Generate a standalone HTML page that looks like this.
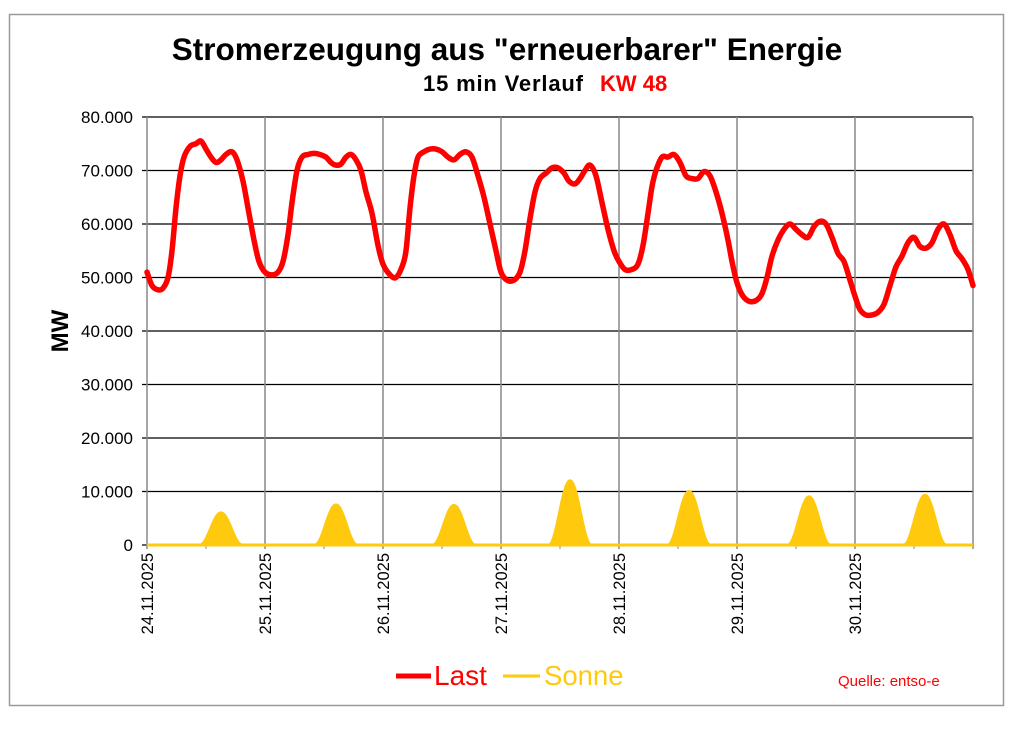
<!DOCTYPE html>
<html><head><meta charset="utf-8"><style>
body{margin:0;background:#fff;}
svg text{font-family:"Liberation Sans",Arial,sans-serif;}
</style></head><body>
<svg id="s" width="1024" height="724" xmlns="http://www.w3.org/2000/svg">
<rect x="0" y="0" width="1024" height="724" fill="#fff"/>
<rect x="9.5" y="14.5" width="994" height="691" fill="none" stroke="#9a9a9a" stroke-width="1.5"/>
<text x="507" y="60" font-size="31.5" font-weight="bold" text-anchor="middle">Stromerzeugung aus "erneuerbarer" Energie</text>
<text x="583" y="91" font-size="22" font-weight="bold" text-anchor="end" textLength="160">15 min Verlauf</text>
<text x="600" y="91" font-size="22" font-weight="bold" fill="#ff0000">KW 48</text>
<g id="grid"></g>
<g id="lbl" font-size="17"></g>
<text transform="translate(68,331) rotate(-90)" font-size="24" font-weight="bold" text-anchor="middle">MW</text>
<path id="sun" fill="#ffc90e" stroke="#ffc90e" stroke-width="3"/>
<path id="last" fill="none" stroke="#ff0000" stroke-width="5.5" stroke-linejoin="round" stroke-linecap="round"/>
<line x1="396" y1="676" x2="431" y2="676" stroke="#ff0000" stroke-width="5"/>
<text x="434" y="685" font-size="28" fill="#ff0000">Last</text>
<line x1="503" y1="676" x2="540" y2="676" stroke="#ffc90e" stroke-width="3"/>
<text x="544" y="685" font-size="27.5" fill="#ffc90e">Sonne</text>
<text x="838" y="686" font-size="15" fill="#ff0000">Quelle: entso-e</text>
</svg>
<script>
const X0=147,X1=973,Y0=545,K=53.5/10000;
const yv=v=>Y0-v*K;
let g='',l='';
for(let i=0;i<=8;i++){const y=Y0-i*53.5;g+=`<line x1="${X0-5}" y1="${y}" x2="${X1}" y2="${y}" stroke="#000" stroke-width="1.3"/>`;
l+=`<text x="133" y="${y+6}" text-anchor="end">${i==0?'0':(i*10)+'.000'}</text>`;}
const dates=['24','25','26','27','28','29','30'];
for(let d=0;d<=7;d++){const x=X0+d*118;g+=`<line x1="${x}" y1="117" x2="${x}" y2="${Y0+4}" stroke="#888" stroke-width="1.5"/>`;
if(d<7){g+=`<line x1="${x+59}" y1="${Y0}" x2="${x+59}" y2="${Y0+4}" stroke="#888" stroke-width="1"/>`;
l+=`<text transform="translate(${x+6},553) rotate(-90)" text-anchor="end" font-size="16.5">${dates[d]}.11.2025</text>`;}}
document.getElementById('grid').innerHTML=g;document.getElementById('lbl').innerHTML=l;
const P=[147,51000,152,48500,158,47700,163,48000,168,50000,172,55000,176,63000,180,69000,184,72500,190,74500,196,75000,201,75500,206,74000,211,72500,216,71500,221,72000,226,73000,232,73500,237,72000,243,68000,248,63000,254,57000,259,53000,265,51000,
272,50500,278,51000,283,53000,288,58000,292,64000,297,70000,302,72500,308,73000,314,73200,320,73000,326,72500,331,71500,336,71000,341,71200,346,72500,351,73000,356,72000,361,70000,366,66000,372,62000,378,56000,383,52500,
390,50500,396,50000,402,52000,406,55000,410,63000,414,69000,418,72500,424,73500,430,74000,436,74000,442,73500,448,72500,454,72000,460,73000,466,73500,472,72500,478,69000,484,65000,490,60000,496,55000,501,51000,
507,49500,514,49500,520,51000,525,55000,530,61000,535,66000,540,68500,546,69500,552,70500,558,70500,564,69500,569,68000,575,67500,580,68500,585,70000,590,71000,596,69000,602,64000,608,59000,614,55000,619,53000,
625,51500,632,51500,638,52500,643,56000,648,62000,652,67000,656,70000,662,72500,668,72500,674,73000,680,71500,686,69000,692,68500,698,68500,704,69800,710,69000,716,66000,722,62000,728,57000,732,53000,737,49000,
743,46500,750,45500,757,45800,762,47000,767,50000,772,54000,778,57000,784,59000,790,60000,796,59000,802,58000,808,57500,814,59500,820,60500,826,60000,832,57500,838,54500,844,53000,850,49500,855,46500,
860,44000,866,43000,872,43000,878,43500,884,45000,890,48500,896,52000,902,54000,908,56500,914,57500,920,55800,926,55500,932,56500,938,59000,944,60000,950,58000,956,55000,962,53500,968,51500,973,48500];
let pts=[];for(let i=0;i<P.length;i+=2)pts.push([P[i],yv(P[i+1])]);
let d=`M${pts[0][0]},${pts[0][1]}`;
for(let i=0;i<pts.length-1;i++){const p0=pts[Math.max(0,i-1)],p1=pts[i],p2=pts[i+1],p3=pts[Math.min(pts.length-1,i+2)];
d+=`C${p1[0]+(p2[0]-p0[0])/6},${p1[1]+(p2[1]-p0[1])/6} ${p2[0]-(p3[0]-p1[0])/6},${p2[1]-(p3[1]-p1[1])/6} ${p2[0]},${p2[1]}`;}
document.getElementById('last').setAttribute('d',d);
const S=[[221,6000],[336,7500],[454,7400],[570,12000],[689,10000],[809,9000],[925,9300]];
let sd=`M${X0},${Y0}`;
for(let x=X0;x<=X1;x+=1){let v=0;for(const [c,p] of S){const t=(x-c)/21;if(Math.abs(t)<1)v+=p*Math.pow(Math.cos(t*Math.PI/2),2);}sd+=`L${x},${yv(v)}`;}
sd+=`L${X1},${Y0}Z`;
document.getElementById('sun').setAttribute('d',sd);
</script>
</body></html>
